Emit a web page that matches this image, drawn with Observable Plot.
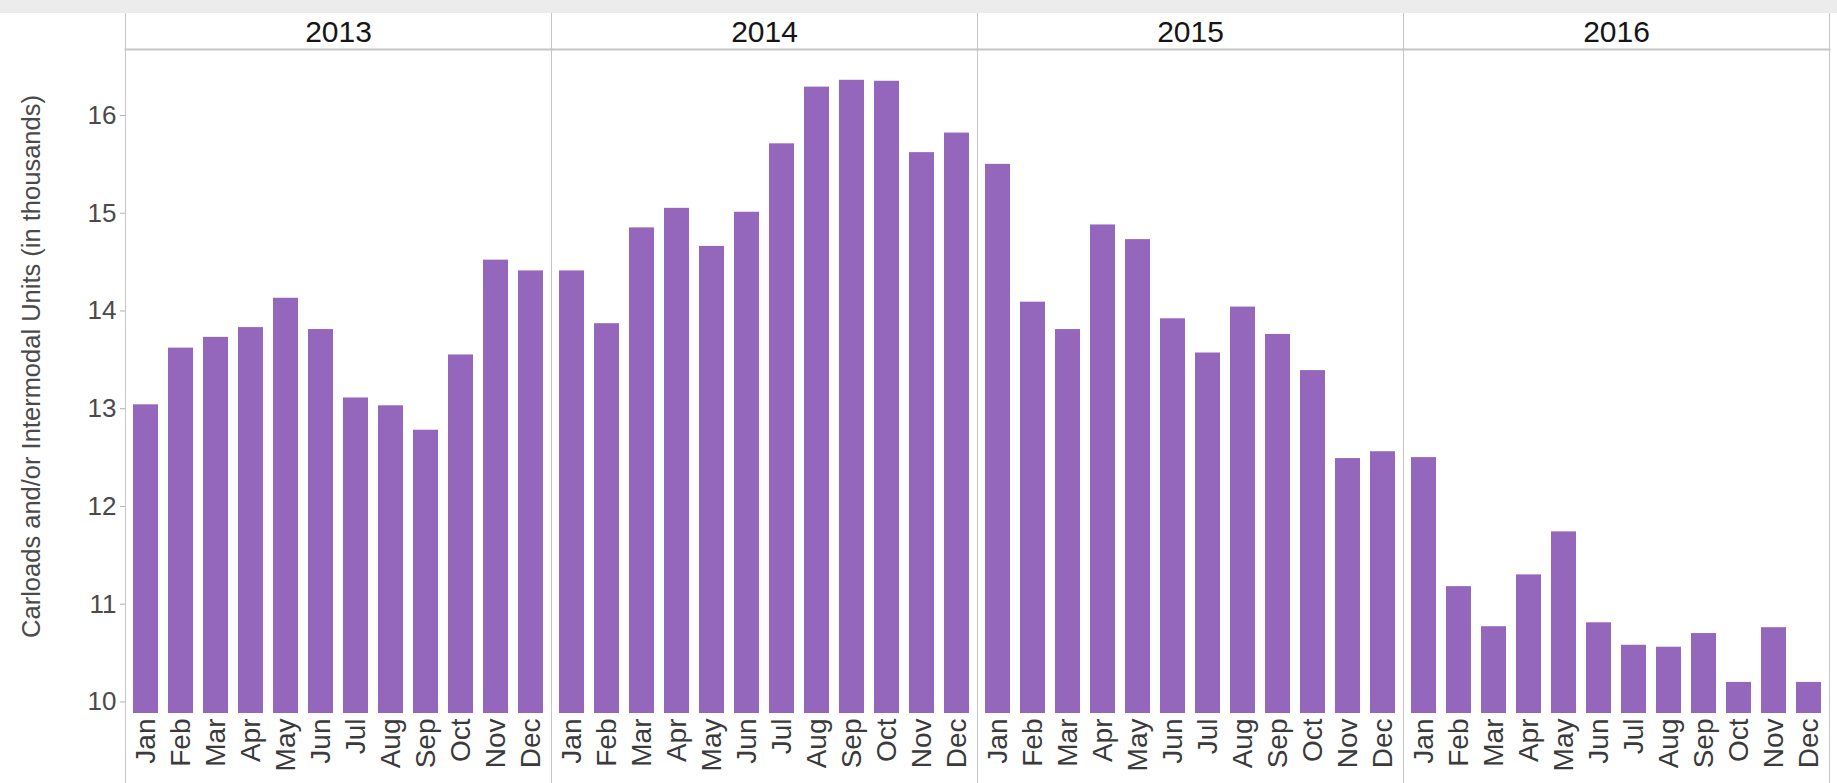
<!DOCTYPE html>
<html>
<head>
<meta charset="utf-8">
<script src="https://cdn.jsdelivr.net/npm/d3@7"></script>
<script src="https://cdn.jsdelivr.net/npm/@observablehq/plot@0.6"></script>
<style>
  html, body { margin: 0; padding: 0; background: #ffffff; }
  body { font-family: "Liberation Sans", Arial, sans-serif; width: 1837px; height: 783px; overflow: hidden; }
  #band { height: 13px; background: #ececec; }
  #chart svg { display: block; }
</style>
</head>
<body>
<div id="band"></div>
<div id="chart"></div>
<script>
const years = ["2013", "2014", "2015", "2016"];
const months = ["Jan", "Feb", "Mar", "Apr", "May", "Jun", "Jul", "Aug", "Sep", "Oct", "Nov", "Dec"];
const values2013 = [13.04, 13.62, 13.73, 13.83, 14.13, 13.81, 13.11, 13.03, 12.78, 13.55, 14.52, 14.41];
const values2014 = [14.41, 13.87, 14.85, 15.05, 14.66, 15.01, 15.71, 16.29, 16.36, 16.35, 15.62, 15.82];
const values2015 = [15.50, 14.09, 13.81, 14.88, 14.73, 13.92, 13.57, 14.04, 13.76, 13.39, 12.49, 12.56];
const values2016 = [12.50, 11.18, 10.77, 11.30, 11.74, 10.81, 10.58, 10.56, 10.70, 10.20, 10.76, 10.20];
const yTicks = [10, 11, 12, 13, 14, 15, 16];
const yTitle = "Carloads and/or Intermodal Units (in thousands)";
const yDomain = [9.882, 16.675];

const seriesByYear = [values2013, values2014, values2015, values2016];
const table = years.flatMap((year, i) =>
  months.map((month, j) => ({year, month, value: seriesByYear[i][j]}))
);

const lineColor = "#c6c6c6";

const chart = Plot.plot({
  width: 1837,
  height: 770,
  marginTop: 36,
  marginLeft: 123,
  marginRight: 7,
  marginBottom: 70,
  style: {fontFamily: "'Liberation Sans', Arial, sans-serif", background: "transparent", overflow: "visible"},
  fx: {domain: years, padding: 0},
  x: {domain: months, paddingInner: 0.3, paddingOuter: 0.15},
  y: {domain: yDomain},
  marks: [
    Plot.frame({anchor: "top", stroke: lineColor, strokeWidth: 2}),
    Plot.frame({anchor: "left", stroke: lineColor, insetTop: -36, insetBottom: -70}),
    Plot.frame({anchor: "right", stroke: lineColor, insetTop: -36, insetBottom: -70}),
    Plot.barY(table, {fx: "year", x: "month", y1: yDomain[0], y2: "value", fill: "#9467bd"}),
    Plot.axisY({
      ticks: yTicks, tickFormat: d3.format("d"), tickSize: 5, tickPadding: 4,
      stroke: "#b0b0b0", fill: "#4a4a4a", fontSize: 26, label: null
    }),
    Plot.text([yTitle], {
      fx: () => years[0], text: (d) => d, frameAnchor: "left", rotate: -90,
      textAnchor: "middle", dx: -94, dy: -15, fontSize: 25.5, fill: "#4a4a4a"
    }),
    Plot.axisX({
      tickRotate: -90, tickSize: 0, tickPadding: 5, fill: "#3a3a3a", fontSize: 28, label: null
    }),
    Plot.axisFx({
      anchor: "top", tickSize: 0, tickPadding: 8, fill: "#151515", fontSize: 30, label: null
    })
  ]
});
document.getElementById("chart").appendChild(chart);
</script>
</body>
</html>
